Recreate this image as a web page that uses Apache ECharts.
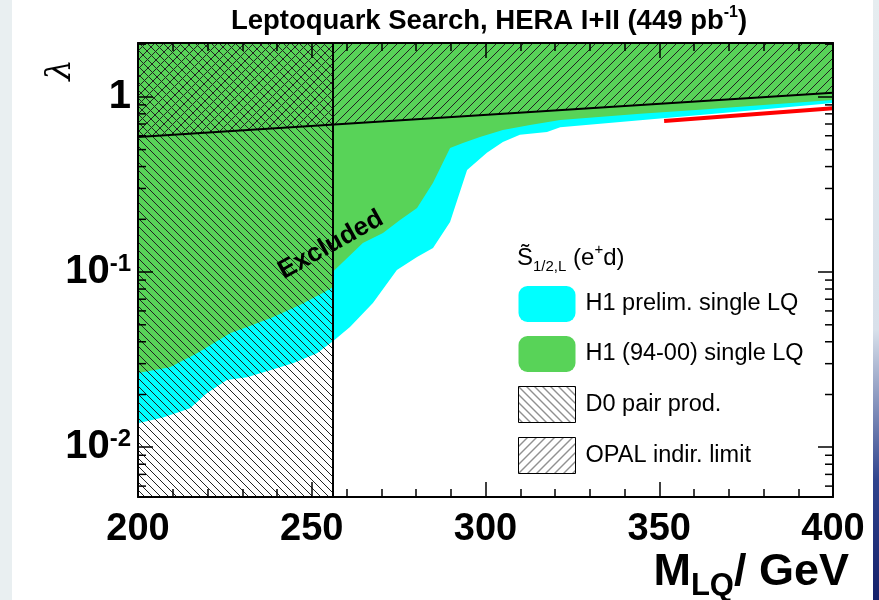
<!DOCTYPE html>
<html>
<head>
<meta charset="utf-8">
<script src="https://cdn.jsdelivr.net/npm/echarts@6/dist/echarts.min.js"></script>
<style>
  html, body { margin: 0; padding: 0; background: #e9eff1; }
  #chart { width: 879px; height: 600px; }
</style>
</head>
<body>
<div id="chart"></div>
<script>
// ---------------- data ----------------
// H1 prelim. single LQ : lower edge of the excluded (cyan) region
const cyanMass   = [200, 207.2, 215.0, 219.9, 225.6, 231.4, 238.0, 244.6, 251.5, 256.1, 261.0, 267.6, 274.5, 280.3, 284.9, 289.8, 294.7, 300.4, 305.0, 309.9, 317.7, 321.5, 344.5, 362.6, 381.9, 400];
const cyanLambda = [0.0137, 0.0148, 0.0167, 0.0204, 0.0242, 0.0251, 0.0275, 0.0302, 0.0344, 0.0403, 0.0485, 0.0665, 0.1026, 0.122, 0.137, 0.193, 0.383, 0.479, 0.553, 0.607, 0.631, 0.67, 0.736, 0.791, 0.856, 0.924];

// H1 (94-00) single LQ : lower edge of the excluded (green) region
const greenMass   = [200, 209.2, 217.0, 226.5, 231.4, 238.8, 246.6, 253.2, 256, 256, 264.7, 270.5, 275.4, 280.3, 284.9, 289.8, 293.5, 298.4, 305.0, 312.8, 321.5, 344.5, 362.6, 381.9, 400];
const greenLambda = [0.0265, 0.0286, 0.0344, 0.0448, 0.0485, 0.0553, 0.0648, 0.0759, 0.082, 0.100, 0.1465, 0.167, 0.198, 0.232, 0.323, 0.511, 0.546, 0.591, 0.648, 0.692, 0.739, 0.80, 0.848, 0.906, 0.961];

// OPAL indirect limit (excluded above)
const opalMass   = [200, 400];
const opalLambda = [0.591, 1.054];

// D0 pair production: excluded for masses below this, at every coupling
const d0Mass   = [200, 256];

// red curve
const redMass   = [351.4, 400];
const redLambda = [0.729, 0.86];

// axis ticks
const yMinorTicks = [0.006, 0.007, 0.008, 0.009, 0.02, 0.03, 0.04, 0.05, 0.06, 0.07, 0.08, 0.09, 0.2, 0.3, 0.4, 0.5, 0.6, 0.7, 0.8, 0.9, 2];

// annotation
const excludedAt = [255.5, 0.143];

// ---------------- helpers ----------------
const FONT = '"Liberation Sans", Arial, Helvetica, sans-serif';
const xMin = 200, xMax = 400, yMin = 0.0052, yMax = 2.03;
function zip(a, b) { return a.map((v, i) => [v, b[i]]); }
function hatch(size, dir, color, lw) {
  const c = document.createElement('canvas');
  c.width = size; c.height = size;
  const ctx = c.getContext('2d');
  ctx.strokeStyle = color; ctx.lineWidth = lw;
  ctx.beginPath();
  for (let k = -1; k <= 1; k++) {
    if (dir === '/') { ctx.moveTo(k * size, size); ctx.lineTo(k * size + size, 0); }
    else { ctx.moveTo(k * size, 0); ctx.lineTo(k * size + size, size); }
  }
  ctx.stroke();
  return c;
}
const d0Pattern   = { image: hatch(8, '\\', '#222', 1), repeat: 'repeat' };
const opalPattern = { image: hatch(9, '/', '#222', 1), repeat: 'repeat' };

const CYAN = '#00ffff', GREEN = '#58d358';

const chart = echarts.init(document.getElementById('chart'), null, { renderer: 'canvas' });

const yLabelFormatter = v => {
  const lg = Math.log10(v), e = Math.round(lg);
  if (Math.abs(lg - e) > 1e-6) return '';
  if (e === 0) return '{b|1}';
  return '{b|10}{s|' + e + '}';
};

const option = {
  animation: false,
  backgroundColor: 'transparent',
  grid: { left: 138, right: 46, top: 43, bottom: 103, show: false },
  legend: {
    orient: 'vertical', left: 518, top: 286, padding: 0,
    itemWidth: 57, itemHeight: 36, itemGap: 14,
    selectedMode: false,
    textStyle: { fontFamily: FONT, fontSize: 23.5, color: '#000', padding: [0, 0, 0, 5] },
    data: [
      { name: 'H1 prelim. single LQ', icon: 'roundRect', itemStyle: { color: CYAN, borderWidth: 0 } },
      { name: 'H1 (94-00) single LQ', icon: 'roundRect', itemStyle: { color: GREEN, borderWidth: 0 } },
      { name: 'D0 pair prod.', icon: 'rect', itemStyle: { color: d0Pattern, borderColor: '#000', borderWidth: 1 } },
      { name: 'OPAL indir. limit', icon: 'rect', itemStyle: { color: opalPattern, borderColor: '#000', borderWidth: 1 } }
    ]
  },
  xAxis: [{
    type: 'value', min: xMin, max: xMax, interval: 50, z: 10,
    axisLine: { show: true, onZero: false, lineStyle: { color: '#000', width: 2 } },
    axisTick: { show: true, inside: true, length: 15, lineStyle: { color: '#000', width: 1.5 } },
    minorTick: { show: true, splitNumber: 5, length: 8, lineStyle: { color: '#000', width: 1.5 } },
    splitLine: { show: false },
    axisLabel: { margin: 14, fontFamily: FONT, fontWeight: 'bold', fontSize: 38, color: '#000',
                 showMinLabel: true, showMaxLabel: true, hideOverlap: false }
  }, {
    type: 'value', position: 'top', min: xMin, max: xMax, interval: 50, z: 10,
    axisLine: { show: true, onZero: false, lineStyle: { color: '#000', width: 2 } },
    axisTick: { show: true, inside: true, length: 15, lineStyle: { color: '#000', width: 1.5 } },
    minorTick: { show: true, splitNumber: 5, length: 8, lineStyle: { color: '#000', width: 1.5 } },
    splitLine: { show: false },
    axisLabel: { show: false }
  }],
  yAxis: [{
    type: 'log', logBase: 10, min: yMin, max: yMax, z: 10,
    axisLine: { show: true, onZero: false, lineStyle: { color: '#000', width: 2 } },
    axisTick: { show: true, inside: true, length: 15, lineStyle: { color: '#000', width: 1.5 } },
    splitLine: { show: false },
    axisLabel: {
      margin: 7, formatter: yLabelFormatter, showMinLabel: true, showMaxLabel: true, hideOverlap: false,
      rich: {
        b: { fontFamily: FONT, fontWeight: 'bold', fontSize: 40, color: '#000' },
        s: { fontFamily: FONT, fontWeight: 'bold', fontSize: 24, color: '#000', verticalAlign: 'top' }
      }
    }
  }, {
    type: 'log', logBase: 10, min: yMin, max: yMax, position: 'right', z: 10,
    axisLine: { show: true, onZero: false, lineStyle: { color: '#000', width: 2 } },
    axisTick: { show: true, inside: true, length: 15, lineStyle: { color: '#000', width: 1.5 } },
    splitLine: { show: false },
    axisLabel: { show: false }
  }],
  series: [
    {
      name: 'H1 prelim. single LQ', type: 'line', z: 2, showSymbol: false, silent: true,
      data: zip(cyanMass, cyanLambda),
      itemStyle: { color: CYAN },
      lineStyle: { width: 0, color: CYAN },
      areaStyle: { origin: 'end', color: CYAN, opacity: 1 }
    },
    {
      name: 'H1 (94-00) single LQ', type: 'line', z: 3, showSymbol: false, silent: true,
      data: zip(greenMass, greenLambda),
      itemStyle: { color: GREEN },
      lineStyle: { width: 0, color: GREEN },
      areaStyle: { origin: 'end', color: GREEN, opacity: 1 }
    },
    {
      name: 'OPAL indir. limit', type: 'line', z: 4, showSymbol: false, silent: true,
      data: zip(opalMass, opalLambda),
      itemStyle: { color: '#000' },
      lineStyle: { width: 2, color: '#000' },
      areaStyle: { origin: 'end', color: opalPattern, opacity: 1 }
    },
    {
      name: 'D0 pair prod.', type: 'line', z: 4, showSymbol: false, silent: true,
      data: d0Mass.map(m => [m, yMax]),
      itemStyle: { color: '#000' },
      lineStyle: { width: 0 },
      areaStyle: { origin: 'start', color: d0Pattern, opacity: 1 },
      markLine: {
        silent: true, symbol: ['none', 'none'], label: { show: false },
        lineStyle: { color: '#000', width: 2, type: 'solid' },
        data: [{ xAxis: d0Mass[d0Mass.length - 1] }]
      }
    },
    {
      name: 'red', type: 'line', z: 5, showSymbol: false, silent: true,
      data: zip(redMass, redLambda),
      lineStyle: { width: 4, color: '#ff0000' }
    },
    {
      name: 'minor-ticks', type: 'custom', z: 11, silent: true, clip: false,
      data: yMinorTicks.map(v => [xMin, v]),
      renderItem: (params, api) => {
        const v = api.value(1);
        const pL = api.coord([xMin, v]);
        const pR = api.coord([xMax, v]);
        return {
          type: 'group', children: [
            { type: 'line', shape: { x1: pL[0], y1: pL[1], x2: pL[0] + 8, y2: pL[1] }, style: { stroke: '#000', lineWidth: 1.5 } },
            { type: 'line', shape: { x1: pR[0] - 8, y1: pR[1], x2: pR[0], y2: pR[1] }, style: { stroke: '#000', lineWidth: 1.5 } }
          ]
        };
      }
    }
  ],
  graphic: [
    { type: 'rect', z: -10, silent: true, shape: { x: 12, y: 0, width: 861, height: 600 }, style: { fill: '#ffffff' } },
    { type: 'rect', z: -10, silent: true, shape: { x: 873, y: 0, width: 6, height: 600 },
      style: { fill: new echarts.graphic.LinearGradient(0, 0, 0, 1, [
        { offset: 0, color: '#e6edf0' }, { offset: 0.55, color: '#d8e0ea' }, { offset: 0.8, color: '#30448e' }, { offset: 1, color: '#15206a' }]) } },
    {
      type: 'text', z: 100, silent: true, x: 489, y: 21,
      style: {
        text: '{t|Leptoquark Search, HERA I+II (449 pb}{s|-1}{t|)}', align: 'center', verticalAlign: 'middle',
        rich: {
          t: { fontFamily: FONT, fontWeight: 'bold', fontSize: 27.5, fill: '#000', lineHeight: 32 },
          s: { fontFamily: FONT, fontWeight: 'bold', fontSize: 16, fill: '#000', verticalAlign: 'top', lineHeight: 32 }
        }
      }
    },
    {
      type: 'text', z: 100, silent: true, x: 61, y: 70, rotation: Math.PI / 2,
      style: { text: 'λ', font: 'italic 34px "DejaVu Serif", "Liberation Serif", serif', fill: '#000', align: 'center', verticalAlign: 'middle' }
    },
    {
      type: 'text', z: 100, silent: true, x: 849, y: 574,
      style: {
        text: '{m|M}{sub|LQ}{m|/ GeV}', align: 'right', verticalAlign: 'middle',
        rich: {
          m: { fontFamily: FONT, fontWeight: 'bold', fontSize: 45, fill: '#000', verticalAlign: 'top', lineHeight: 48 },
          sub: { fontFamily: FONT, fontWeight: 'bold', fontSize: 31, fill: '#000', verticalAlign: 'bottom', lineHeight: 48, padding: [0, 0, -4, 0] }
        }
      }
    },
    {
      type: 'text', z: 100, silent: true, x: 517, y: 258,
      style: {
        text: '{t|S\u0303}{sub|1/2,L}{t| (e}{sup|+}{t|d)}', verticalAlign: 'middle',
        rich: {
          t: { fontFamily: FONT, fontSize: 24, fill: '#000', lineHeight: 32 },
          sub: { fontFamily: FONT, fontSize: 15, fill: '#000', verticalAlign: 'bottom', lineHeight: 32 },
          sup: { fontFamily: FONT, fontSize: 15, fill: '#000', verticalAlign: 'top', lineHeight: 32 }
        }
      }
    }
  ]
};
chart.setOption(option);

// "Excluded" annotation placed at a data position through the axes
const ep = chart.convertToPixel({ xAxisIndex: 0, yAxisIndex: 0 }, excludedAt);
chart.setOption({
  graphic: [{
    id: 'excluded', type: 'text', zlevel: 2, z: 100, silent: true,
    x: ep[0], y: ep[1], rotation: 29 * Math.PI / 180,
    style: {
      text: 'Excluded', font: 'bold 26px ' + FONT, fill: '#000',
      align: 'center', verticalAlign: 'middle', lineWidth: 0, stroke: null
    }
  }]
});
</script>
</body>
</html>
